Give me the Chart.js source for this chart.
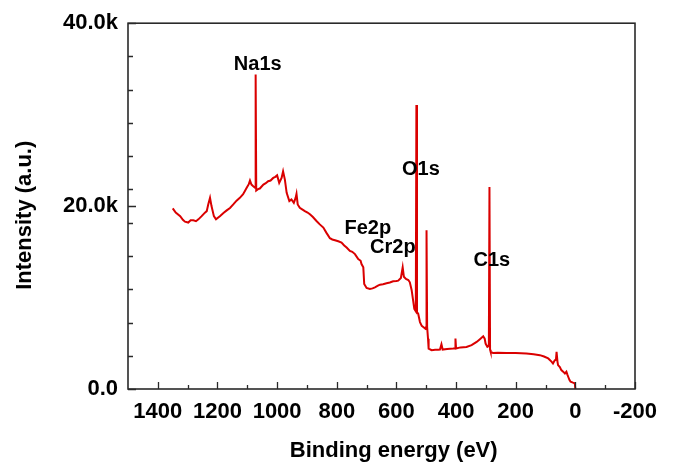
<!DOCTYPE html>
<html>
<head>
<meta charset="utf-8">
<script src="https://cdn.jsdelivr.net/npm/chart.js@4.4.1/dist/chart.umd.min.js"></script>
<style>
html,body{margin:0;padding:0;background:#fff;}
#wrap{width:674px;height:462px;position:relative;}
</style>
</head>
<body>
<div id="wrap"><canvas id="c"></canvas></div>
<script>
const bindingEnergy = [
  1350,1340,1325,1316,1309,1298,1290,1281,1272,1264,1253,1242,1236,1231,1225,1220,1212,1205,1192,1180,
  1169,1158,1147,1136,1125,1114,1102,1095,1091,1086,1080,1074,1072,1070,1064,1058,1046,1038,1030,1022,
  1013,1006,1000,993,985,980,974,968,959,952,944,938,935,931,924,916,907,898,890,880,
  868,857,845,835,823,815,806,795,784,775,767,756,748,739,728,720,717,711,708,700,
  689,680,672,662,655,645,633,622,611,600,594,585,579,575,568,560,555,549,544,540,
  535,533,531,527,521,515,510,503,500,499,497,494,492,482,470,460,454,449,445,430,
  410,403,402,400,385,365,348,331,320,309,304,301,295,290,288,286,284,276,260,231,
  200,164,140,119,105,91,80,75,69,65,63,60,58,52,47,41,35,30,27,24,
  20,16,8,2,0
];
const intensity = [
  19750,19300,18900,18500,18300,18200,18450,18440,18350,18550,18900,19280,19450,20180,20900,20000,18900,18550,18900,19250,
  19530,19800,20180,20600,20900,21300,22000,22400,22790,22350,22170,22000,34380,21700,21850,21920,22350,22500,22720,22800,
  23080,23200,23370,22540,23080,23800,22900,21450,20550,20730,20360,20900,21340,20180,19820,19650,19460,19300,19100,18800,
  18370,18000,17650,17100,16490,16350,16270,16150,16020,15700,15470,15100,15000,14750,14200,14020,13660,13300,11490,11050,
  10940,11000,11120,11300,11410,11450,11560,11650,11780,11800,11850,12140,13300,12280,12030,11920,11670,10830,9680,8770,
  8500,31050,8400,8230,7320,6900,6780,6600,6800,17360,6780,5500,4420,4240,4280,4300,4310,4890,4310,4380,
  4420,4450,5510,4420,4550,4600,4800,5150,5450,5760,5500,4970,4600,4700,22100,4300,4060,3950,3960,3950,
  3930,3880,3800,3700,3550,3340,3000,2790,3150,3200,4060,3000,2610,2400,2070,1900,1700,1890,1600,1340,
  1000,800,690,620,0
];

const xMajorTicks = [1400,1200,1000,800,600,400,200,0,-200];
const xMinorTicks = [1300,1100,900,700,500,300,100,-100];
const yMajorTicks = [0,20000,40000];
const yMajorLabels = ['0.0','20.0k','40.0k'];
const yMinorTicks = [3640,7270,10910,14550,18180,21820,25450,29090,32730,36360];

const peakLabels = ['Na1s','O1s','Fe2p','Cr2p','C1s'];
const peakLabelX = [1065,518,696,612,280];
const peakLabelY = [34860,23370,16960,14920,13480];

const FONT = '"Liberation Sans", Arial, Helvetica, sans-serif';
Chart.defaults.font.family = FONT;
Chart.defaults.color = '#000';

const points = bindingEnergy.map((e,i)=>({x:e, y:intensity[i]}));

const framePlugin = {
  id:'frameAndLabels',
  afterDatasetsDraw(chart){
    const {ctx, chartArea:a, scales:{x, y}} = chart;
    ctx.save();
    ctx.strokeStyle = '#2a2a2a';
    ctx.lineWidth = 1.6;
    ctx.strokeRect(a.left, a.top, a.right-a.left, a.bottom-a.top);
    ctx.beginPath();
    x.ticks.forEach(t=>{
      const px = Math.round(x.getPixelForValue(t.value))+0.5;
      const len = xMajorTicks.includes(t.value) ? 7 : 4;
      ctx.moveTo(px, a.bottom); ctx.lineTo(px, a.bottom-len);
    });
    y.ticks.forEach(t=>{
      const py = Math.round(y.getPixelForValue(t.value))+0.5;
      const len = yMajorTicks.includes(t.value) ? 8 : 5;
      ctx.moveTo(a.left, py); ctx.lineTo(a.left+len, py);
    });
    ctx.lineWidth = 1.3;
    ctx.stroke();
    ctx.fillStyle = '#000';
    ctx.font = 'bold 20px ' + FONT;
    ctx.textAlign = 'center';
    ctx.textBaseline = 'alphabetic';
    peakLabels.forEach((s,i)=>{
      ctx.fillText(s, x.getPixelForValue(peakLabelX[i]), y.getPixelForValue(peakLabelY[i]));
    });
    ctx.restore();
  }
};

new Chart(document.getElementById('c'), {
  type:'line',
  data:{
    datasets:[{
      data:points,
      borderColor:'rgb(218,0,0)',
      borderWidth:2,
      pointRadius:0,
      tension:0,
      fill:false
    }]
  },
  options:{
    responsive:true,
    maintainAspectRatio:false,
    animation:false,
    layout:{padding:{top:21,right:39,bottom:0,left:0}},
    plugins:{legend:{display:false}, tooltip:{enabled:false}},
    scales:{
      x:{
        type:'linear',
        reverse:true,
        min:-200, max:1500,
        afterFit(s){ s.height = 73; },
        afterBuildTicks(s){
          const all = xMajorTicks.concat(xMinorTicks).sort((p,q)=>q-p);
          s.ticks = all.map(v=>({value:v}));
        },
        grid:{display:false, drawTicks:false},
        border:{display:false},
        ticks:{
          autoSkip:false, maxRotation:0, minRotation:0, padding:10,
          font:{size:22, weight:'bold'},
          callback:(v)=> xMajorTicks.includes(v) ? String(v) : ''
        },
        title:{display:true, text:'    Binding energy (eV)', font:{size:22, weight:'bold'}, padding:{top:0,bottom:-2}}
      },
      y:{
        type:'linear',
        min:0, max:40000,
        afterFit(s){ s.width = 128; },
        afterBuildTicks(s){
          const all = yMajorTicks.concat(yMinorTicks).sort((p,q)=>p-q);
          s.ticks = all.map(v=>({value:v}));
        },
        grid:{display:false, drawTicks:false},
        border:{display:false},
        ticks:{
          autoSkip:false, padding:10,
          font:{size:22, weight:'bold'},
          callback:(v)=>{ const i = yMajorTicks.indexOf(v); return i>=0 ? yMajorLabels[i] : ''; }
        },
        title:{display:true, text:'Intensity (a.u.)   ', font:{size:22, weight:'bold'}, padding:{top:12,bottom:0}}
      }
    }
  },
  plugins:[framePlugin]
});
</script>
</body>
</html>
